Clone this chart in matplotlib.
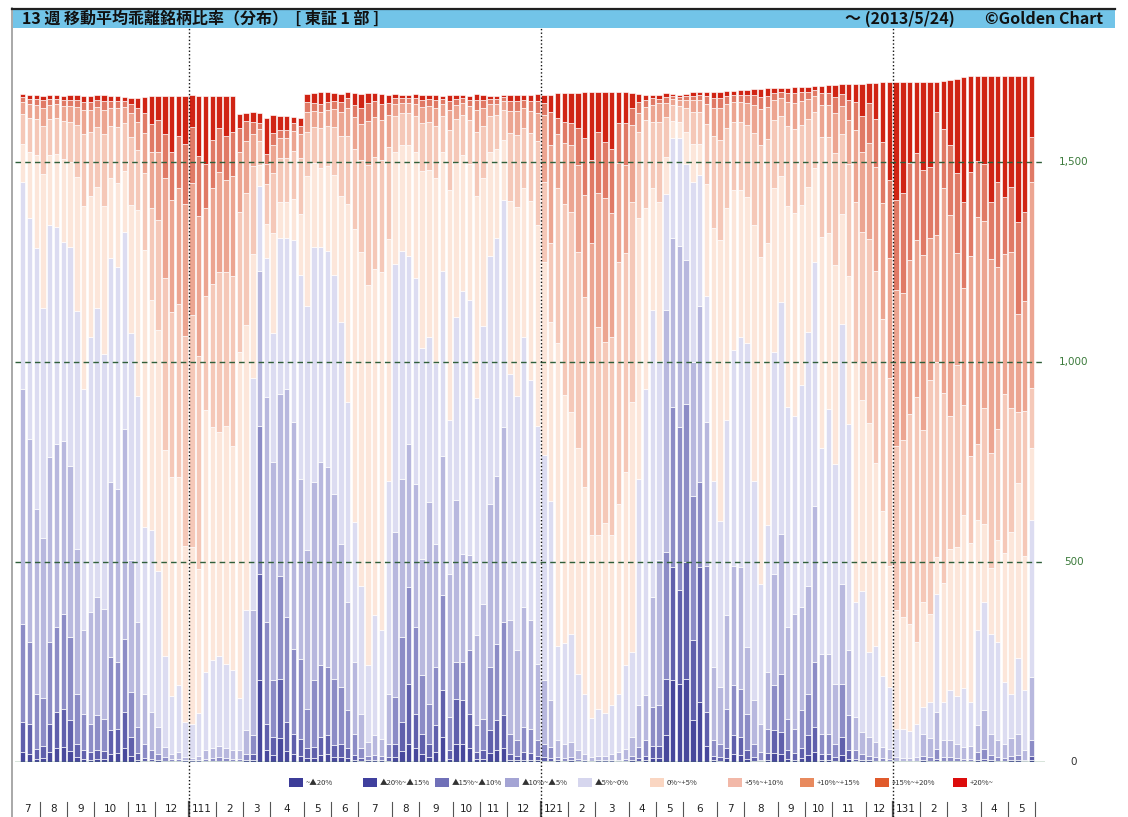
import numpy as np
import pandas as pd
import matplotlib
matplotlib.use("Agg")
import matplotlib.pyplot as plt
from matplotlib.patches import Rectangle
from matplotlib.lines import Line2D
from matplotlib.transforms import blended_transform_factory

plt.rcParams['font.family'] = ['Noto Sans CJK JP', 'DejaVu Sans']

# weekly data, 2010/7/16 ... 2013/5/24 (150 Fridays)
weeks = pd.date_range('2010-07-16', periods=150, freq='W-FRI')

# cumulative tops of the negative bands (number of stocks)
lvl_m20 = [25, 21, 8, 10, 25, 35, 38, 28, 12, 8,
           6, 8, 7, 20, 22, 35, 15, 5, 3, 2,
           1, 1, 0, 0, 0, 0, 0, 0, 1, 1,
           1, 0, 0, 1, 5, 204, 30, 18, 60, 28,
           20, 15, 10, 10, 18, 20, 12, 12, 10, 5,
           3, 1, 1, 1, 3, 12, 28, 46, 35, 20,
           12, 25, 62, 8, 45, 45, 35, 7, 8, 22,
           30, 35, 5, 4, 6, 5, 4, 3, 2, 1,
           1, 1, 0, 0, 0, 0, 0, 0, 0, 0,
           1, 3, 4, 10, 10, 67, 204, 196, 208, 104,
           150, 40, 4, 3, 10, 20, 18, 8, 3, 2,
           6, 22, 20, 8, 6, 10, 18, 25, 5, 5,
           3, 18, 8, 2, 1, 1, 1, 0, 0, 0,
           0, 0, 0, 1, 1, 2, 0, 0, 0, 0,
           0, 1, 2, 1, 0, 0, 1, 1, 0, 4]
lvl_m15 = [100, 96, 33, 40, 96, 125, 133, 104, 46, 30,
           25, 30, 28, 79, 83, 125, 62, 22, 10, 8,
           5, 3, 2, 2, 1, 1, 1, 2, 3, 3,
           3, 2, 2, 5, 20, 471, 96, 62, 208, 100,
           71, 58, 35, 37, 62, 67, 42, 45, 35, 18,
           10, 4, 5, 4, 12, 46, 100, 196, 121, 71,
           46, 92, 179, 30, 158, 154, 121, 25, 30, 79,
           104, 117, 20, 15, 25, 22, 15, 12, 10, 4,
           3, 4, 2, 1, 1, 1, 1, 1, 2, 2,
           4, 10, 15, 40, 40, 208, 487, 429, 500, 304,
           487, 125, 15, 12, 35, 67, 62, 30, 12, 6,
           22, 79, 75, 30, 22, 35, 67, 87, 20, 20,
           12, 62, 30, 8, 5, 4, 3, 3, 2, 1,
           1, 1, 1, 4, 3, 8, 3, 3, 3, 2,
           2, 6, 8, 5, 3, 3, 4, 5, 2, 15]
lvl_m10 = [346, 300, 171, 160, 300, 337, 371, 312, 171, 120,
           96, 117, 108, 262, 250, 308, 175, 87, 46, 29,
           21, 12, 8, 8, 5, 4, 5, 8, 10, 12,
           10, 8, 8, 20, 67, 841, 350, 204, 466, 362,
           283, 258, 133, 204, 242, 237, 208, 187, 130, 70,
           35, 15, 18, 15, 46, 162, 312, 437, 337, 217,
           146, 237, 417, 112, 250, 250, 279, 92, 108, 237,
           296, 350, 71, 54, 87, 83, 54, 46, 37, 12,
           10, 12, 8, 5, 3, 4, 4, 5, 6, 8,
           15, 37, 54, 137, 142, 525, 887, 837, 895, 666,
           700, 491, 54, 46, 133, 192, 183, 121, 46, 25,
           83, 192, 221, 108, 83, 129, 171, 250, 71, 71,
           46, 196, 117, 30, 20, 15, 12, 10, 8, 3,
           3, 3, 3, 15, 12, 33, 12, 12, 10, 8,
           8, 25, 33, 18, 12, 10, 15, 18, 6, 54]
lvl_m05 = [933, 808, 633, 560, 762, 796, 802, 741, 533, 330,
           375, 412, 383, 700, 683, 833, 506, 350, 171, 125,
           87, 37, 20, 25, 12, 10, 15, 30, 35, 40,
           35, 30, 30, 80, 379, 1227, 912, 750, 920, 933,
           850, 708, 529, 700, 750, 737, 671, 546, 400, 250,
           120, 50, 67, 58, 171, 575, 708, 796, 696, 508,
           650, 546, 766, 471, 654, 521, 517, 317, 396, 646,
           716, 837, 354, 279, 387, 354, 246, 204, 154, 54,
           45, 50, 30, 20, 12, 15, 15, 20, 25, 33,
           62, 142, 167, 412, 504, 1130, 1310, 1290, 1255, 1000,
           1140, 850, 237, 187, 367, 491, 487, 287, 154, 96,
           225, 471, 571, 337, 371, 387, 441, 641, 271, 271,
           196, 446, 279, 112, 75, 62, 50, 37, 33, 12,
           10, 10, 12, 71, 60, 125, 54, 54, 46, 37,
           40, 92, 129, 71, 54, 46, 60, 71, 29, 212]
lvl_0 = [1449, 1359, 1284, 1134, 1343, 1337, 1299, 1288, 1127, 932,
         1063, 1134, 1019, 1260, 1238, 1326, 1072, 915, 587, 581,
         478, 264, 166, 193, 100, 94, 122, 225, 255, 264,
         244, 230, 160, 380, 960, 1441, 1260, 1073, 1310, 1310,
         1304, 1217, 1140, 1288, 1288, 1277, 1217, 1100, 900, 600,
         440, 242, 368, 330, 702, 1244, 1277, 1266, 1211, 1036,
         1063, 998, 1227, 855, 1112, 1178, 1156, 910, 1091, 1266,
         1310, 1405, 970, 915, 1063, 954, 839, 768, 653, 291,
         297, 319, 220, 171, 111, 133, 122, 143, 171, 242,
         275, 707, 932, 1129, 1003, 1419, 1561, 1561, 1496, 1450,
         1468, 1164, 702, 603, 855, 1030, 1063, 1047, 702, 445,
         592, 1025, 1151, 888, 866, 943, 1074, 1249, 784, 883,
         746, 1096, 844, 401, 428, 275, 291, 215, 187, 83,
         83, 78, 94, 138, 150, 420, 150, 180, 165, 185,
         150, 330, 400, 320, 300, 200, 170, 260, 180, 604]

# number of stocks in the upper positive bands
n_p05 = [75, 85, 90, 120, 90, 90, 95, 100, 130, 180, 160, 150, 180, 130, 140, 120, 170,
         150, 192, 229, 274, 432, 412, 432, 525, 581, 533, 287, 357, 399, 383, 425,
         350, 330, 220, 60, 100, 150, 110, 110, 120, 140,
         110, 90, 100, 100, 120, 150, 170, 200, 230, 300, 280, 280, 230,
         90, 80, 80, 90, 120, 120, 130, 90, 150, 110, 100, 110, 160, 130, 90, 85, 75,
         170, 180, 150, 170, 210, 200, 197,
         387, 478, 500, 490, 475, 432, 520, 453, 495, 605, 548, 500, 217, 221,
         166, 200, 100, 40, 40, 60, 80, 80, 150,
         230, 250, 200, 170, 170, 180, 230, 280, 260, 170, 150, 200, 210, 200, 170, 140, 250, 240, 280, 200, 280,
         400, 420, 460, 480, 480, 470,
         410, 442, 524, 612, 429, 584, 488, 475, 333, 454, 275, 217, 188, 290, 287, 276, 396, 310, 178, 361, 150]
n_p10 = [30, 35, 35, 45, 35, 35, 38, 40, 45, 60, 55, 50, 60, 45, 48, 40, 60,
         70, 100, 140, 170, 250, 280, 290, 330, 330, 350, 220, 240, 250, 230, 250,
         150, 130, 80, 30, 50, 70, 50, 50, 50, 60,
         50, 40, 40, 40, 45, 60, 70, 80, 90, 110, 100, 100, 80,
         30, 25, 25, 30, 40, 40, 45, 30, 50, 35, 30, 35, 55, 45, 30, 28, 22,
         55, 60, 50, 55, 70, 167, 246,
         136, 152, 166, 216, 254, 297, 334, 358, 309, 246, 220, 192, 46, 33,
         42, 47, 35, 15, 15, 20, 30, 30, 50,
         70, 80, 60, 50, 50, 55, 70, 90, 80, 50, 45, 60, 65, 60, 50, 40, 80, 80, 100, 70, 110,
         180, 200, 240, 260, 290, 300,
         390, 368, 385, 393, 438, 355, 317, 513, 502, 280, 293, 501, 568, 467, 485, 405, 351, 388, 244, 276, 513]
n_p15 = [12, 14, 15, 18, 15, 14, 15, 16, 18, 22, 20, 18, 22, 16, 18, 15, 22,
         35, 50, 70, 80, 110, 120, 130, 150, 140, 150, 110, 120, 110, 110, 110,
         60, 50, 30, 15, 25, 30, 20, 20, 20, 20,
         25, 20, 20, 20, 20, 25, 25, 30, 40, 45, 40, 40, 30,
         15, 12, 12, 15, 18, 18, 20, 12, 22, 15, 12, 15, 25, 20, 12, 12, 10,
         25, 25, 20, 25, 30, 30, 83,
         39, 54, 55, 92, 142, 208, 154, 142, 160, 100, 105, 42, 29, 17,
         17, 10, 15, 8, 8, 10, 12, 12, 20,
         25, 25, 20, 18, 18, 20, 25, 30, 28, 18, 15, 22, 25, 22, 18, 15, 30, 30, 40, 30, 50,
         70, 90, 100, 120, 154, 196,
         225, 250, 242, 217, 213, 179, 309, 146, 175, 200, 216, 208, 141, 142, 141, 212, 142, 163, 229, 221, 113]
n_p20 = [8, 10, 10, 12, 10, 10, 10, 12, 12, 15, 14, 12, 15, 12, 12, 10, 15,
         25, 40, 70, 60, 95, 140, 100, 120, 80, 150, 170, 110, 80, 100, 90,
         35, 20, 25, 25, 90, 45, 35, 35, 15, 20,
         20, 25, 30, 25, 20, 20, 15, 30, 35, 25, 20, 25, 20,
         10, 8, 8, 10, 12, 10, 12, 8, 15, 10, 8, 10, 15, 12, 8, 8, 6,
         15, 15, 12, 15, 18, 21, 42,
         63, 71, 75, 88, 115, 169, 98, 123, 142, 79, 79, 38, 19, 13,
         9, 11, 10, 5, 5, 6, 8, 8, 12,
         15, 15, 12, 10, 12, 12, 15, 20, 18, 12, 10, 14, 15, 14, 12, 10, 18, 20, 30, 25, 40,
         45, 80, 50, 90, 149, 245,
         295, 278, 203, 178, 220, 212, 74, 120, 161, 236, 311, 240, 211, 219, 315, 265, 302, 277, 365, 340, 152]
# total listed stocks (top of each bar)
total = [1670, 1668, 1668, 1666, 1668, 1668, 1666, 1667, 1668, 1666,
         1665, 1667, 1668, 1664, 1665, 1662, 1660, 1660, 1662, 1664,
         1664, 1666, 1664, 1664, 1666, 1668, 1666, 1666, 1664, 1664,
         1664, 1666, 1620, 1622, 1624, 1622, 1610, 1618, 1615, 1615,
         1612, 1610, 1670, 1672, 1674, 1674, 1672, 1670, 1676, 1672,
         1670, 1672, 1672, 1670, 1668, 1670, 1668, 1668, 1670, 1668,
         1668, 1668, 1666, 1668, 1668, 1668, 1666, 1670, 1668, 1666,
         1666, 1668, 1668, 1668, 1668, 1668, 1670, 1668, 1668, 1672,
         1672, 1672, 1672, 1674, 1674, 1674, 1674, 1674, 1676, 1676,
         1672, 1670, 1668, 1668, 1668, 1672, 1670, 1668, 1670, 1674,
         1676, 1676, 1674, 1676, 1678, 1678, 1680, 1680, 1682, 1682,
         1684, 1684, 1684, 1686, 1688, 1688, 1688, 1690, 1690, 1692,
         1692, 1694, 1696, 1696, 1696, 1698, 1698, 1700, 1700, 1700,
         1700, 1700, 1700, 1700, 1700, 1700, 1702, 1704, 1708, 1712,
         1714, 1714, 1714, 1714, 1714, 1714, 1714, 1714, 1714, 1714]

bands = ['~▲20%', '▲20%~▲15%', '▲15%~▲10%', '▲10%~▲5%', '▲5%~0%',
         '0%~+5%', '+5%~+10%', '+10%~+15%', '+15%~+20%', '+20%~']
bar_colors = ['#48489c', '#6060ac', '#8c8cc6', '#b8b8de', '#dcdcf1',
              '#fce6da', '#f5c8b8', '#eca591', '#e07a66', '#d02414']
key_colors = ['#3c3c98', '#40409e', '#7070b8', '#a4a4d4', '#d6d6ee',
              '#fad6c2', '#f2b8a8', '#e88a5e', '#e05a2c', '#dc0c0c']

neg = np.array([lvl_m20, lvl_m15, lvl_m10, lvl_m05, lvl_0], dtype=float)
tot = np.array(total, dtype=float)
p20 = np.array(n_p20, float)
p15 = np.array(n_p15, float)
p10 = np.array(n_p10, float)
p05 = np.array(n_p05, float)
lvl_p00 = tot - p20 - p15 - p10 - p05
tops = np.vstack([neg, lvl_p00, lvl_p00 + p05, lvl_p00 + p05 + p10,
                  lvl_p00 + p05 + p10 + p15, tot])
bottoms = np.vstack([np.zeros(len(tot)), tops[:-1]])

W, H = 1128, 817
fig = plt.figure(figsize=(W / 100, H / 100), dpi=100)
fig.patch.set_facecolor('white')


def fx(px):
    return px / W


def fy(py):
    return 1 - py / H


# frame + title bar
fig.add_artist(Line2D([fx(12), fx(12)], [fy(8), fy(817)], color='#9a9a9a', lw=1.2))
fig.add_artist(Rectangle((fx(13), fy(28)), fx(1115) - fx(13), fy(9) - fy(28),
                         facecolor='#72c4e8', edgecolor='none'))
fig.add_artist(Line2D([fx(12), fx(1115)], [fy(8.5), fy(8.5)], color='#202020', lw=1.6))
fig.text(fx(22), fy(18.5), '13 週 移動平均乖離銘柄比率（分布）  [ 東証 1 部 ]',
         fontsize=11.5, fontweight='bold', color='#111111', va='center', ha='left')
fig.text(fx(845), fy(18.5), '～ (2013/5/24)', fontsize=11.5, fontweight='bold',
         color='#111111', va='center', ha='left')
fig.text(fx(985), fy(18.5), '©Golden Chart', fontsize=11.5, fontweight='bold',
         color='#111111', va='center', ha='left')

ax = fig.add_axes([fx(15), fy(762), fx(1045) - fx(15), fy(28) - fy(762)])
x = np.arange(len(tot))
for k in range(10):
    ax.bar(x, tops[k] - bottoms[k], bottom=bottoms[k], width=0.8,
           color=bar_colors[k], edgecolor='white', linewidth=0.45, zorder=2)

ax.set_xlim((15 - 22.7) / 6.77, (1045 - 22.7) / 6.77)
ax.set_ylim(0, 1835)
for s in ax.spines.values():
    s.set_visible(False)
ax.set_xticks([])
ax.set_yticks([])
for v in [500, 1000, 1500]:
    ax.axhline(v, color='#2f5f3a', lw=1.0, ls=(0, (4, 3)), zorder=3)
ax.axhline(0, color='#3d7a4a', lw=1.0, zorder=3)

# y labels on the right
tr_y = blended_transform_factory(fig.transFigure, ax.transData)
for v, lab, c in [(1500, '1,500', '#3b7a3b'), (1000, '1,000', '#3b7a3b'),
                  (500, '500', '#3b7a3b'), (0, '0', '#333333')]:
    fig.text(fx(1074), v, lab, transform=tr_y, fontsize=7.5, color=c,
             ha='center', va='center', family=['DejaVu Sans'])

# year separators (dotted)
tr_x = blended_transform_factory(ax.transData, fig.transFigure)
for yr in [2011, 2012, 2013]:
    i0 = int(np.argmax(weeks.year == yr))
    ax.add_artist(Line2D([i0 - 0.5, i0 - 0.5], [fy(817), fy(28)], transform=tr_x,
                         color='#111111', lw=1.0, ls=(0, (1, 1.6)), clip_on=False, zorder=6))

# month row
month_start = [0] + [i for i in range(1, len(weeks)) if weeks[i].month != weeks[i - 1].month]
edges = [i - 0.5 for i in month_start] + [len(weeks) - 0.5]
edges[0] = (15 - 22.7) / 6.77
for j, i0 in enumerate(month_start):
    d = weeks[i0]
    lab = f'{d.year % 100}{d.month}' if d.month == 1 else str(d.month)
    xc = (edges[j] + edges[j + 1]) / 2
    fig.text(xc, fy(809.5), lab, transform=tr_x, fontsize=7.5, color='#222222',
             ha='center', va='center', family=['DejaVu Sans'])
    if j > 0:
        lw = 1.6 if d.month == 1 else 0.8
        ax.add_artist(Line2D([edges[j], edges[j]], [fy(817), fy(802)], transform=tr_x,
                             color='#555555', lw=lw, clip_on=False))
ax.add_artist(Line2D([edges[-1], edges[-1]], [fy(817), fy(802)], transform=tr_x,
                     color='#555555', lw=0.8, clip_on=False))

# legend row
key_x = [289, 363, 435, 505, 578, 650, 728, 800, 875, 953]
for k in range(10):
    fig.add_artist(Rectangle((fx(key_x[k]), fy(787)), 14 / W, 9 / H,
                             facecolor=key_colors[k], edgecolor='none'))
    fig.text(fx(key_x[k] + 17), fy(783), bands[k], fontsize=5.5, color='#333333',
             ha='left', va='center', family=['Noto Sans CJK JP', 'DejaVu Sans'])

fig.savefig('out.png', dpi=100)
